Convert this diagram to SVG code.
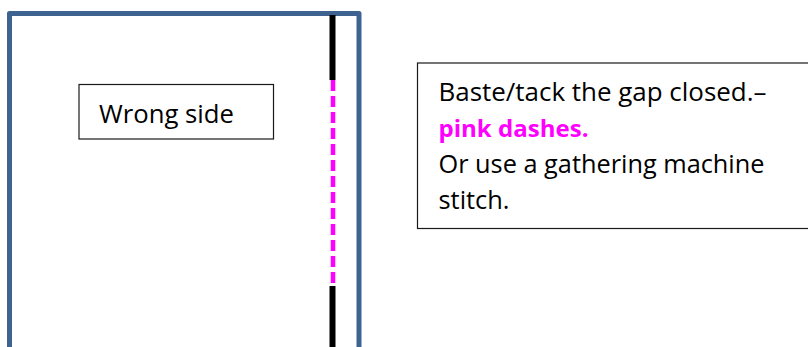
<svg xmlns="http://www.w3.org/2000/svg" width="808" height="347" viewBox="0 0 808 347">
<style>
text{font-family:"Open Sans","Noto Sans",sans-serif;font-size:26px;fill:#000}
.box{fill:#fff;stroke:#1a1a1a;stroke-width:1.200}
.seam{stroke:#000;stroke-width:6;fill:none}
</style>
<rect width="808" height="347" fill="#fff"/>
<g id="panel">
<path d="M9.500 347V13.500H359V347" fill="none" stroke="#3e6390" stroke-width="5" stroke-linejoin="round"/>
</g>
<g id="connectors">
<path class="seam" d="M332.500 15V80"/>
<path d="M333 80V285" stroke="#ff00ff" stroke-width="4.500" stroke-dasharray="11 5" fill="none"/>
<path class="seam" d="M332.500 286V347"/>
</g>
<g id="label-wrong-side">
<rect class="box" x="79" y="84.500" width="194.500" height="54.500"/>
<text x="99" y="123" textLength="135" lengthAdjust="spacingAndGlyphs">Wrong side</text>
</g>
<g id="note">
<rect class="box" x="417.500" y="63" width="392" height="165.500"/>
<text x="438.500" y="101" textLength="328" lengthAdjust="spacingAndGlyphs">Baste/tack the gap closed.–</text>
<text x="438.500" y="137" font-weight="700" style="fill:#ff00ff;font-size:24px" textLength="150" lengthAdjust="spacingAndGlyphs">pink dashes.</text>
<text x="438.500" y="173" textLength="326" lengthAdjust="spacingAndGlyphs">Or use a gathering machine</text>
<text x="438.500" y="209" textLength="71" lengthAdjust="spacingAndGlyphs">stitch.</text>
</g>
</svg>
